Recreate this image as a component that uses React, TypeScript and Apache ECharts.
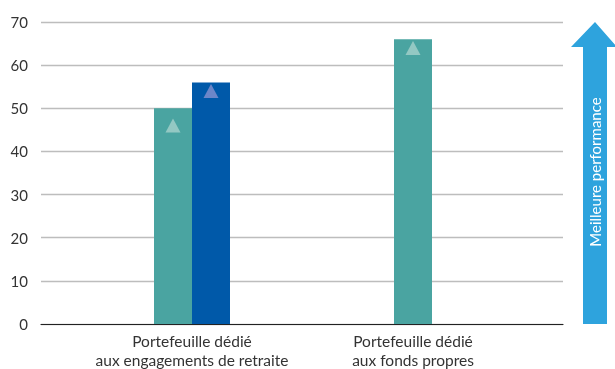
import React, { useEffect, useRef } from "react";
import * as echarts from "echarts";

const categories = [
  "Portefeuille dédié\naux engagements de retraite",
  "Portefeuille dédié\naux fonds propres",
];
const portfolioValues: (number | string)[] = [50, "-"];
const benchmarkValues: (number | string)[] = [56, "-"];
const equityValues: (number | string)[] = ["-", 66];
const portfolioMarkers = [46];
const benchmarkMarkers = [54];
const equityMarkers = [64];
const yTicks = { min: 0, max: 70, interval: 10 };
const arrowLabel = "Meilleure performance";

const GREEN = "#4aa4a1";
const BLUE = "#0059a9";
const FONT = "Lato, 'Noto Sans', sans-serif";

export default function App() {
  const ref = useRef<HTMLDivElement>(null);
  useEffect(() => {
    if (!ref.current) return;
    const chart = echarts.init(ref.current, undefined, { renderer: "svg" });
    const tri = (catIdx: number, v: number, color: string) => ({
      coord: [catIdx, v],
      symbol: "triangle",
      symbolSize: [15, 14],
      itemStyle: { color },
      label: { show: false },
    });
    chart.setOption({
      animation: false,
      textStyle: { fontFamily: FONT },
      grid: [
        { left: 41, right: 52, top: 22, bottom: 45 },
        { left: 81.5, right: 91.5, top: 22, bottom: 45 },
      ],
      xAxis: [
        {
          gridIndex: 0,
          type: "category",
          data: categories,
          axisLine: { show: true, lineStyle: { color: "#222", width: 1.2 } },
          axisTick: { show: false },
          axisLabel: { show: false },
        },
        {
          gridIndex: 1,
          type: "category",
          data: categories,
          axisLine: { show: false },
          axisTick: { show: false },
          axisLabel: {
            color: "#333",
            fontSize: 15.5,
            lineHeight: 19,
            margin: 7,
            interval: 0,
            fontFamily: FONT,
          },
        },
        {
          gridIndex: 1,
          type: "category",
          data: categories,
          show: false,
        },
      ],
      yAxis: [
        {
          gridIndex: 0,
          type: "value",
          min: yTicks.min,
          max: yTicks.max,
          interval: yTicks.interval,
          axisLine: { show: false },
          axisTick: { show: false },
          axisLabel: { color: "#333", fontSize: 15, margin: 13, fontFamily: FONT },
          splitLine: { lineStyle: { color: "#bdbdbd", width: 1.3 } },
        },
        {
          gridIndex: 1,
          type: "value",
          min: yTicks.min,
          max: yTicks.max,
          interval: yTicks.interval,
          show: false,
          splitLine: { show: false },
        },
      ],
      series: [
        {
          type: "bar",
          xAxisIndex: 1,
          yAxisIndex: 1,
          data: portfolioValues,
          barWidth: 38,
          barGap: "0%",
          itemStyle: { color: GREEN },
          markPoint: { data: portfolioMarkers.map((v) => tri(0, v, "#93c8c3")) },
        },
        {
          type: "bar",
          xAxisIndex: 1,
          yAxisIndex: 1,
          data: benchmarkValues,
          barWidth: 38,
          barGap: "0%",
          itemStyle: { color: BLUE },
          markPoint: { data: benchmarkMarkers.map((v) => tri(0, v, "#6c86c8")) },
        },
        {
          type: "bar",
          xAxisIndex: 2,
          yAxisIndex: 1,
          data: equityValues,
          barWidth: 38,
          itemStyle: { color: GREEN },
          markPoint: { data: equityMarkers.map((v) => tri(1, v, "#93c8c3")) },
        },
      ],
      graphic: [
        {
          type: "polygon",
          shape: {
            points: [
              [595, 22],
              [617, 47],
              [607, 47],
              [607, 324],
              [583, 324],
              [583, 47],
              [571, 47],
            ],
          },
          style: { fill: "#2ea3dd" },
        },
        {
          type: "text",
          x: 595,
          y: 172,
          rotation: Math.PI / 2,
          style: {
            text: arrowLabel,
            fill: "#ffffff",
            fontSize: 15,
            fontFamily: FONT,
            align: "center",
            verticalAlign: "middle",
          },
        },
      ],
    });
    return () => chart.dispose();
  }, []);
  return (
    <div
      ref={ref}
      style={{ position: "fixed", left: 0, top: 0, width: 615, height: 369 }}
    />
  );
}
